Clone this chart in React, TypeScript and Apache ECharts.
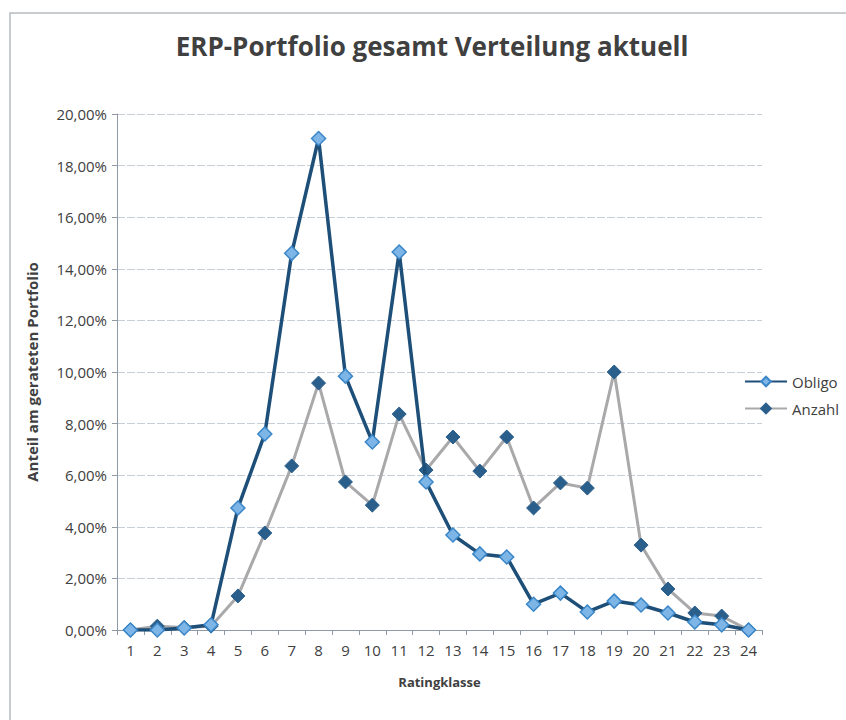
import React, { useEffect, useRef } from "react";
import * as echarts from "echarts";

const categories = ["1","2","3","4","5","6","7","8","9","10","11","12","13","14","15","16","17","18","19","20","21","22","23","24"];
const obligo = [0.0, 0.0, 0.08, 0.2, 4.73, 7.6, 14.6, 19.05, 9.84, 7.29, 14.65, 5.74, 3.68, 2.95, 2.83, 1.0, 1.43, 0.7, 1.12, 0.97, 0.66, 0.31, 0.2, 0.0];
const anzahl = [0.0, 0.15, 0.1, 0.15, 1.32, 3.76, 6.36, 9.57, 5.74, 4.84, 8.37, 6.2, 7.48, 6.16, 7.48, 4.73, 5.7, 5.5, 10.0, 3.29, 1.59, 0.66, 0.54, 0.0];

const FONT = "'Open Sans', 'Liberation Sans', sans-serif";

export default function App() {
  const ref = useRef<HTMLDivElement>(null);
  useEffect(() => {
    if (!ref.current) return;
    const chart = echarts.init(ref.current, null, { renderer: "svg" });
    chart.setOption({
      animation: false,
      backgroundColor: "#ffffff",
      textStyle: { fontFamily: FONT },
      title: {
        text: "ERP-Portfolio gesamt Verteilung aktuell",
        left: 427,
        top: 28,
        textAlign: "center",
        textStyle: { fontFamily: FONT, fontSize: 26, fontWeight: "bold", color: "#404040" },
      },
      graphic: [
        {
          type: "polyline",
          shape: { points: [[10, 720], [10, 13], [846, 13]] },
          style: { stroke: "#b8bcc0", lineWidth: 1.5, fill: "none" },
          silent: true,
        },
      ],
      legend: {
        orient: "vertical",
        left: 739,
        top: 369,
        itemWidth: 42,
        itemHeight: 12,
        itemGap: 12,
        textStyle: { fontFamily: FONT, fontSize: 15, color: "#404040" },
        data: ["Obligo", "Anzahl"],
      },
      grid: { left: 117, right: 84, top: 114, bottom: 90, containLabel: false },
      xAxis: {
        type: "category",
        data: categories,
        boundaryGap: true,
        name: "Ratingklasse",
        nameLocation: "middle",
        nameGap: 45,
        nameTextStyle: { fontFamily: FONT, fontSize: 13, fontWeight: "bold", color: "#404040" },
        axisLine: { lineStyle: { color: "#8e9aa6", width: 1 } },
        axisTick: { show: true, alignWithLabel: false, length: 5, lineStyle: { color: "#8e9aa6" } },
        axisLabel: { fontFamily: FONT, fontSize: 15, color: "#404040", margin: 12, interval: 0 },
      },
      yAxis: {
        type: "value",
        min: 0,
        max: 20,
        interval: 2,
        name: "Anteil am gerateten Portfolio",
        nameLocation: "middle",
        nameGap: 78,
        nameTextStyle: { fontFamily: FONT, fontSize: 15, fontWeight: "bold", color: "#404040" },
        axisLine: { show: true, lineStyle: { color: "#8e9aa6", width: 1 } },
        axisTick: { show: true, length: 5, lineStyle: { color: "#8e9aa6" } },
        axisLabel: {
          fontFamily: FONT,
          fontSize: 15,
          color: "#404040",
          margin: 10,
          formatter: (v: number) => v.toFixed(2).replace(".", ",") + "%",
        },
        splitLine: { show: true, lineStyle: { color: "#c8ced6", width: 1, type: [8, 2] } },
      },
      series: [
        {
          name: "Obligo",
          type: "line",
          data: obligo,
          z: 3,
          symbol: "diamond",
          symbolSize: 14,
          lineStyle: { color: "#1d4f79", width: 3.5 },
          itemStyle: { color: "#7db6e6", borderColor: "#3a86c8", borderWidth: 1.5 },
        },
        {
          name: "Anzahl",
          type: "line",
          data: anzahl,
          z: 2,
          symbol: "diamond",
          symbolSize: 14,
          lineStyle: { color: "#a9a9ab", width: 3 },
          itemStyle: { color: "#2a5f8c", borderColor: "#2a5f8c", borderWidth: 1 },
        },
      ],
    });
    return () => chart.dispose();
  }, []);
  return (
    <div
      ref={ref}
      style={{ position: "fixed", left: 0, top: 0, width: 846, height: 720, background: "#fff" }}
    />
  );
}
